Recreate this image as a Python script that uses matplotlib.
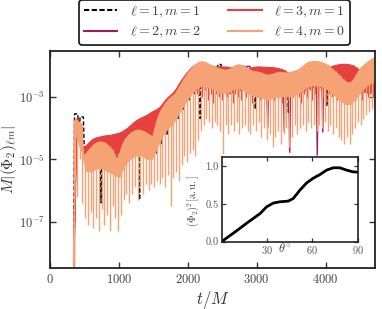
import numpy as np
import matplotlib
matplotlib.use("Agg")
import matplotlib.pyplot as plt
from matplotlib.lines import Line2D
from matplotlib.ticker import NullLocator, FixedLocator

plt.rcParams['font.family'] = 'serif'
plt.rcParams['font.serif'] = ['cmr10', 'DejaVu Serif']
plt.rcParams['mathtext.fontset'] = 'cm'
plt.rcParams['axes.formatter.use_mathtext'] = True

# ---------------- data (log10 of M|(Phi2)_lm|) ----------------
t_start = 340.0       # signal switches on
floor_log = -9.0

# l=4, m=0 : crest of each 40 M oscillation (first at t=370), node depth, and
# lower edge of the densely filled band (sampled every 80 M)
l4_t0, l4_period, l4_band_step = 370.0, 40.0, 80.0
l4_peak = [-3.75, -3.8, -3.9, -4.9, -4.8, -4.7, -4.6, -4.52, -4.47, -4.45,
           -4.46, -4.5, -4.58, -4.68, -4.82, -5.0, -4.85, -4.55, -4.38, -4.27,
           -4.18, -4.12, -4.08, -4.07, -4.09, -4.13, -4.18, -4.24, -4.3, -3.95,
           -3.65, -3.45, -3.3, -3.18, -3.08, -3.0, -2.93, -2.8, -2.65, -2.5,
           -2.36, -2.23, -2.12, -2.02, -1.95, -1.9, -1.88, -1.9, -1.94, -1.99,
           -2.03, -2.07, -2.1, -2.13, -2.15, -2.15, -2.12, -2.06, -2.01, -1.98,
           -1.99, -2.03, -2.08, -2.13, -2.18, -2.2, -2.21, -2.23, -2.26, -2.3,
           -2.31, -2.3, -2.27, -2.24, -2.22, -2.23, -2.24, -2.24, -2.22, -2.2,
           -2.17, -2.14, -2.08, -2.0, -1.93, -1.89, -1.88, -1.87, -1.88, -1.9,
           -1.93, -1.97, -2.03, -2.1, -2.18, -2.26, -2.35, -2.45, -2.52, -2.56,
           -2.55, -2.45, -2.3, -2.16, -2.05, -1.97, -1.9, -1.84, -1.79, -1.75]
l4_trough = [-6.2, -5.0, -6.4, -6.9, -7.1, -6.7, -7.2, -6.9, -7.3, -6.6,
             -7.1, -6.8, -7.3, -6.5, -6.9, -7.3, -6.8, -6.3, -6.1, -6.4,
             -6.1, -5.9, -6.3, -5.9, -6.1, -5.8, -6.0, -5.8, -5.9, -5.7,
             -5.8, -5.6, -5.9, -5.5, -6.5, -5.6, -5.4, -5.7, -5.2, -4.9,
             -5.1, -4.8, -4.7, -4.9, -4.4, -4.1, -3.9, -3.7, -3.8, -4.0,
             -3.8, -3.9, -4.1, -4.85, -3.9, -4.2, -3.9, -4.1, -3.8, -4.2,
             -4.0, -3.9, -4.1, -4.2, -3.9, -4.1, -3.8, -4.3, -4.0, -4.4,
             -4.2, -4.6, -4.3, -4.1, -4.5, -4.2, -4.0, -4.6, -4.3, -3.9,
             -4.2, -4.0, -3.9, -4.1, -3.8, -4.0, -3.9, -4.1, -3.9, -4.0,
             -3.8, -4.1, -3.9, -4.2, -4.0, -4.3, -4.4, -4.5, -4.3, -4.5,
             -4.2, -4.0, -3.8, -3.9, -3.7, -3.6, -3.5, -3.4, -3.3, -3.2]
l4_band = [-4.2, -4.6, -5.4, -5.4, -5.3, -5.3, -5.4, -5.5, -5.6, -5.2,
           -5.0, -4.9, -4.9, -5.0, -5.0, -4.6, -4.2, -4.0, -3.8, -3.5,
           -3.2, -2.95, -2.75, -2.65, -2.7, -2.75, -2.85, -2.9, -2.85, -2.75,
           -2.75, -2.85, -2.95, -3.0, -3.05, -3.1, -3.05, -3.0, -3.0, -3.0,
           -2.95, -2.85, -2.7, -2.65, -2.65, -2.7, -2.8, -2.95, -3.1, -3.25,
           -3.25, -3.05, -2.8, -2.65, -2.55, -2.5]

# l=3, m=1
l3_t0, l3_period, l3_band_step = 390.0, 40.0, 80.0
l3_peak = [-3.7, -3.85, -4.6, -4.62, -4.52, -4.43, -4.36, -4.32, -4.3, -4.28,
           -4.26, -4.25, -4.24, -4.22, -4.2, -4.18, -4.15, -4.1, -4.04, -3.97,
           -3.89, -3.81, -3.75, -3.7, -3.66, -3.62, -3.57, -3.51, -3.46, -3.42,
           -3.36, -3.26, -3.14, -3.04, -2.96, -2.88, -2.77, -2.62, -2.48, -2.36,
           -2.24, -2.14, -2.05, -1.99, -1.97, -1.97, -1.99, -2.02, -2.04, -2.05,
           -2.05, -2.04, -2.04, -2.05, -2.05, -2.06, -2.08, -2.12, -2.2, -2.22,
           -2.2, -2.17, -2.13, -2.1, -2.07, -2.05, -2.05, -2.05, -2.06, -2.06,
           -2.07, -2.07, -2.08, -2.1, -2.12, -2.15, -2.2, -2.27, -2.3, -2.33,
           -2.33, -2.3, -2.27, -2.22, -2.17, -2.13, -2.12, -2.13, -2.15, -2.15,
           -2.12, -2.08, -2.05, -2.02, -2.0, -1.98, -1.97, -1.96, -1.97, -1.98,
           -2.0, -2.05, -2.12, -2.2, -2.3, -2.35, -2.35, -2.3, -2.25, -2.2]
l3_trough = [-4.0, -4.5, -4.95, -4.9, -4.85, -4.75, -4.7, -4.65, -4.65, -4.65,
             -4.7, -4.75, -4.8, -4.85, -4.9, -4.85, -4.6, -4.45, -4.35, -4.3,
             -4.25, -4.2, -4.2, -4.2, -4.22, -4.25, -4.3, -4.3, -4.1, -3.8,
             -3.6, -3.5, -3.4, -3.3, -3.25, -3.15, -3.1, -3.0, -2.9, -2.8,
             -2.7, -2.7, -2.8, -2.9, -2.9, -3.0, -2.8, -3.1, -2.9, -3.2,
             -2.9, -3.0, -3.1, -2.8, -3.0, -2.9, -3.2, -2.9, -3.0, -3.1,
             -2.8, -3.0, -2.9, -3.2, -2.8, -3.0, -3.1, -2.9, -3.0, -3.2,
             -2.9, -3.1, -2.8, -3.0, -3.2, -2.9, -3.1, -2.9, -3.0, -2.8,
             -3.0, -3.2, -2.9, -3.0, -2.8, -3.1, -2.9, -3.0, -2.8, -3.0,
             -3.2, -2.9, -3.0, -2.9, -3.1, -2.8, -3.0, -3.2, -2.9, -3.1,
             -2.9, -3.0, -2.9, -3.1, -2.8, -3.0, -2.9, -3.0, -2.9, -2.8]
l3_band = [-4.0, -4.7, -4.8, -4.75, -4.7, -4.7, -4.75, -4.85, -4.8, -4.5,
           -4.35, -4.25, -4.25, -4.3, -4.3, -3.9, -3.6, -3.4, -3.2, -2.95,
           -2.7, -2.55, -2.5, -2.5, -2.55, -2.6, -2.6, -2.6, -2.65, -2.75,
           -2.75, -2.7, -2.6, -2.6, -2.6, -2.6, -2.65, -2.7, -2.75, -2.85,
           -2.9, -2.85, -2.75, -2.7, -2.7, -2.7, -2.65, -2.6, -2.55, -2.55,
           -2.6, -2.7, -2.85, -2.9, -2.85, -2.8]

# l=1, m=1 : one oscillation every 80 M
l1_t0, l1_period = 380.0, 80.0
l1_peak = [-3.55, -3.65, -4.6, -4.6, -4.55, -4.55, -4.65, -4.9, -4.9, -4.45,
           -4.25, -4.15, -4.15, -4.25, -4.35, -3.75, -3.35, -3.15, -3.0, -2.65,
           -2.4, -2.15, -2.05, -2.05, -2.08, -2.05, -1.97, -2.25, -2.25, -2.15,
           -2.12, -2.22, -2.3, -2.35, -2.36, -2.38, -2.35, -2.32, -2.33, -2.3,
           -2.28, -2.25, -2.1, -2.05, -2.05, -2.1, -2.2, -2.35, -2.5, -2.7,
           -2.7, -2.5, -2.25, -2.1, -2.0, -1.95]
l1_trough = [-4.3, -5.0, -5.2, -5.3, -6.4, -5.3, -5.4, -5.5, -5.3, -5.0,
             -4.9, -6.3, -4.9, -4.9, -4.8, -4.5, -4.2, -3.9, -3.7, -3.4,
             -3.1, -2.9, -3.7, -2.7, -2.7, -2.8, -2.9, -2.9, -2.9, -2.8,
             -2.8, -2.9, -3.4, -3.0, -3.0, -3.0, -3.0, -2.9, -3.5, -2.9,
             -2.8, -2.7, -2.6, -2.6, -2.6, -3.3, -2.8, -2.9, -3.1, -3.2,
             -3.1, -2.9, -2.7, -2.6, -3.4, -2.5]

# l=2, m=2
l2_t0, l2_period = 400.0, 80.0
l2_peak = [-3.9, -4.7, -4.7, -4.6, -4.55, -4.6, -4.7, -4.95, -4.7, -4.35,
           -4.2, -4.15, -4.2, -4.25, -4.1, -3.5, -3.25, -3.05, -2.85, -2.55,
           -2.3, -2.1, -1.98, -1.97, -2.05, -2.12, -2.18, -2.2, -2.15, -2.05,
           -2.03, -2.03, -2.08, -2.22, -2.3, -2.33, -2.3, -2.27, -2.28, -2.25,
           -2.2, -2.1, -1.97, -1.93, -1.95, -2.02, -2.15, -2.3, -2.45, -2.6,
           -2.55, -2.25, -2.15, -2.0, -1.95, -1.9]
l2_trough = [-4.6, -5.2, -5.2, -5.2, -5.2, -5.3, -5.3, -5.3, -5.0, -4.9,
             -4.8, -4.8, -4.8, -4.5, -4.5, -4.2, -4.0, -3.7, -3.5, -3.2,
             -2.9, -2.8, -2.7, -2.7, -2.8, -2.8, -2.9, -2.9, -2.8, -2.8,
             -2.8, -2.9, -3.0, -3.0, -4.0, -3.0, -3.0, -4.1, -4.78, -2.9,
             -2.9, -2.8, -2.7, -4.87, -4.13, -2.8, -2.9, -3.0, -3.2, -3.2,
             -3.1, -2.9, -2.7, -2.6, -2.6, -2.5]

labels = [r'$\ell=1, m=1$', r'$\ell=2, m=2$', r'$\ell=3, m=1$', r'$\ell=4, m=0$']
colors = ['#000000', '#a3195e', '#e6403f', '#f5a274']

# inset: angular profile
theta_deg = [0, 10, 17.5, 25.4, 29.8, 34.2, 38.6, 44.1, 47.4, 51.8, 56.2,
             60.7, 65.1, 69.5, 73.9, 78.3, 82.7, 87.1, 90]
phi2_sq = [0.0, 0.144, 0.257, 0.37, 0.46, 0.51, 0.527, 0.536, 0.57, 0.68,
           0.775, 0.84, 0.887, 0.946, 0.977, 0.977, 0.946, 0.923, 0.92]


def line_series(t0, period, peaks, troughs, cap=0.3):
    t = [t_start]
    v = [floor_log]
    for i, (p, q) in enumerate(zip(peaks, troughs)):
        tc = t0 + i * period
        t += [tc - cap * period, tc + cap * period, tc + period / 2]
        v += [p, p, q]
    return np.array(t), 10.0 ** np.array(v)


def draw_band_series(ax, t0, period, band_step, peaks, troughs, band, color, z):
    tp = t0 + period * np.arange(len(peaks))
    tb = t0 + band_step * np.arange(len(band))
    # densely filled band between crest and band floor
    xs = np.concatenate([[t_start], tp, tb[::-1]])
    ys = 10.0 ** np.concatenate([[floor_log], peaks, np.array(band)[::-1]])
    ax.fill(xs, ys, color=color, lw=0.8, ec=color, zorder=z)
    # deep nodes below the band
    ts = np.concatenate([[t_start + 10], tp + period / 2])
    ylo = 10.0 ** np.concatenate([[floor_log], troughs])
    yhi = 10.0 ** np.concatenate([[peaks[0]], peaks])
    ax.vlines(ts, ylo, yhi, color=color, lw=1.0, zorder=z)


fig = plt.figure(figsize=(3.82, 3.09), dpi=100)
ax = fig.add_axes([0.131, 0.133, 0.851, 0.702])

t, y = line_series(l1_t0, l1_period, l1_peak, l1_trough)
ax.plot(t, y, color=colors[0], lw=1.0, ls=(0, (3, 1.5)), zorder=1)
t, y = line_series(l2_t0, l2_period, l2_peak, l2_trough)
ax.plot(t, y, color=colors[1], lw=1.0, zorder=2)
draw_band_series(ax, l3_t0, l3_period, l3_band_step, l3_peak, l3_trough, l3_band, colors[2], 3)
draw_band_series(ax, l4_t0, l4_period, l4_band_step, l4_peak, l4_trough, l4_band, colors[3], 4)

handles = [Line2D([], [], color=colors[0], lw=1.5, ls=(0, (2.5, 1.2)))]
handles += [Line2D([], [], color=c, lw=1.5) for c in colors[1:]]

ax.set_yscale('log')
ax.set_xlim(0, 4720)
ax.set_ylim(3.3e-9, 2.9e-2)
ax.yaxis.set_major_locator(FixedLocator([1e-7, 1e-5, 1e-3]))
ax.yaxis.set_minor_locator(NullLocator())
ax.set_xticks([0, 1000, 2000, 3000, 4000])
ax.tick_params(direction='in', top=True, right=True, labelsize=9, length=4, width=1.0,
               colors='#333333', labelcolor='#444444')
for s in ax.spines.values():
    s.set_linewidth(1.3)
    s.set_color('#222222')
    s.set_zorder(10)
ax.set_xlabel(r'$t/M$', fontsize=12, color='#333333', labelpad=2)
ax.set_ylabel(r'$M|(\Phi_2)_{\ell m}|$', fontsize=11, color='#333333', labelpad=0)

leg = ax.legend(handles, labels, ncol=2, loc='lower center', bbox_to_anchor=(0.506, 1.028),
                borderaxespad=0, fontsize=10, frameon=True, fancybox=True, framealpha=1,
                handlelength=2.4, columnspacing=2.0, handletextpad=0.9, labelspacing=0.35,
                borderpad=0.35)
leg.get_frame().set_edgecolor('#111111')
leg.get_frame().set_linewidth(1.2)
for txt in leg.get_texts():
    txt.set_color('#444444')

# inset
axi = fig.add_axes([0.580, 0.218, 0.356, 0.274])
axi.plot(theta_deg, phi2_sq, color='black', lw=2.0)
axi.set_xlim(0, 90)
axi.set_ylim(0, 1.12)
axi.set_xticks([30, 60, 90])
axi.set_yticks([0.0, 0.5, 1.0])
axi.set_yticklabels(['0.0', '0.5', '1.0'])
axi.tick_params(direction='in', top=True, right=True, labelsize=7.5, length=3, width=0.9, pad=2,
                colors='#333333', labelcolor='#555555')
for s in axi.spines.values():
    s.set_linewidth(1.2)
    s.set_color('#222222')
axi.set_xlabel(r'$\theta^{\circ}$', fontsize=9, color='#444444')
axi.xaxis.set_label_coords(0.465, -0.01)
axi.set_ylabel(r'$(\Phi_2)^2[\mathrm{a.u.}]$', fontsize=7.5, color='#444444')
axi.yaxis.set_label_coords(-0.15, 0.48)

fig.savefig('out.png', dpi=100)
